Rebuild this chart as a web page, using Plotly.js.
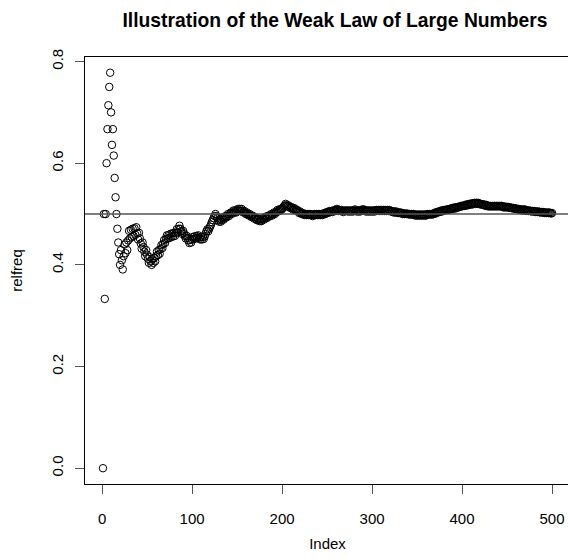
<!DOCTYPE html>
<html>
<head>
<meta charset="utf-8">
<script src="https://cdn.plot.ly/plotly-3.0.1.min.js"></script>
<style>html,body{margin:0;padding:0;overflow:hidden;background:#fff;width:568px;height:560px}</style>
</head>
<body>
<div id="chart" style="width:574px;height:560px"></div>
<script>
const chartTitle = "Illustration of the Weak Law of Large Numbers";
const xTitle = "Index";
const yTitle = "relfreq";
const refLevel = 0.5;
const xTickVals = [0, 100, 200, 300, 400, 500];
const yTickVals = [0.0, 0.2, 0.4, 0.6, 0.8];
const yTickText = ["0.0", "0.2", "0.4", "0.6", "0.8"];

const relfreq = [
0, .5, .333, .5, .6, .667, .714, .75, .778, .7,
.636, .667, .615, .571, .533, .5, .471, .444, .421, .4,
.429, .409, .391, .417, .44, .423, .444, .429, .448, .467,
.452, .469, .455, .471, .457, .472, .459, .474, .462, .45,
.463, .452, .442, .432, .444, .435, .426, .417, .429, .42,
.412, .404, .415, .407, .4, .411, .404, .414, .407, .417,
.426, .419, .429, .422, .431, .439, .433, .441, .449, .443,
.451, .458, .452, .459, .453, .461, .455, .462, .456, .463,
.457, .463, .47, .464, .471, .477, .471, .466, .461, .467,
.462, .457, .452, .457, .453, .448, .443, .449, .444, .45,
.455, .451, .456, .452, .457, .453, .458, .454, .45, .455,
.45, .455, .451, .456, .461, .466, .47, .466, .471, .475,
.479, .484, .488, .492, .496, .5, .496, .492, .488, .485,
.489, .485, .489, .493, .489, .493, .496, .493, .496, .5,
.496, .5, .503, .5, .503, .507, .503, .507, .503, .507,
.51, .507, .51, .506, .51, .506, .503, .506, .503, .5,
.503, .5, .497, .5, .497, .494, .497, .494, .491, .494,
.491, .488, .491, .489, .486, .489, .486, .489, .492, .489,
.492, .495, .492, .495, .497, .495, .497, .5, .497, .5,
.503, .5, .503, .505, .508, .505, .508, .51, .508, .51,
.512, .515, .517, .52, .517, .515, .517, .514, .512, .514,
.512, .509, .512, .509, .507, .509, .507, .505, .502, .505,
.502, .5, .502, .5, .498, .5, .498, .5, .498, .5,
.498, .5, .498, .496, .498, .5, .498, .5, .498, .5,
.498, .5, .498, .5, .498, .5, .502, .5, .502, .504,
.502, .504, .506, .504, .506, .504, .506, .508, .506, .508,
.51, .508, .506, .508, .506, .508, .506, .504, .506, .507,
.506, .507, .505, .507, .505, .507, .505, .507, .505, .507,
.509, .507, .505, .507, .505, .507, .505, .507, .509, .507,
.509, .507, .505, .507, .505, .507, .505, .507, .505, .507,
.505, .507, .505, .507, .508, .507, .508, .506, .508, .506,
.508, .506, .508, .506, .508, .506, .508, .506, .508, .506,
.505, .506, .505, .503, .505, .503, .505, .503, .502, .503,
.502, .503, .502, .5, .501, .5, .501, .5, .501, .5,
.499, .5, .499, .5, .499, .5, .499, .497, .499, .497,
.499, .497, .499, .497, .499, .497, .499, .497, .499, .497,
.499, .5, .499, .5, .499, .5, .499, .5, .501, .503,
.501, .503, .504, .505, .504, .505, .507, .505, .507, .508,
.507, .508, .509, .508, .509, .51, .509, .51, .512, .51,
.512, .513, .511, .513, .514, .513, .514, .515, .516, .515,
.516, .517, .516, .517, .519, .517, .518, .52, .518, .52,
.521, .519, .521, .522, .52, .522, .52, .522, .52, .519,
.52, .519, .518, .519, .518, .516, .518, .516, .515, .516,
.515, .516, .515, .516, .515, .516, .515, .516, .515, .516,
.515, .516, .515, .516, .515, .513, .515, .513, .514, .513,
.514, .513, .512, .513, .512, .511, .512, .511, .51, .511,
.51, .509, .51, .509, .508, .509, .507, .509, .507, .509,
.507, .506, .507, .506, .507, .506, .505, .506, .505, .506,
.505, .504, .505, .504, .505, .504, .503, .504, .503, .504,
.503, .502, .503, .502, .503, .502, .503, .502, .501, .502
];
const index = relfreq.map((_, i) => i + 1);

const FONT = "Liberation Sans, Arial, Helvetica, sans-serif";

const trace = {
  x: index, y: relfreq, type: "scatter", mode: "markers",
  marker: {symbol: "circle-open", size: 7.5, color: "#000", line: {width: 1, color: "#000"}},
  hoverinfo: "x+y", showlegend: false
};

const layout = {
  width: 574, height: 560,
  margin: {l: 85, r: 4, t: 57, b: 76},
  paper_bgcolor: "#fff", plot_bgcolor: "#fff",
  font: {family: FONT, size: 15, color: "#000"},
  title: {text: chartTitle, font: {family: FONT, size: 19.3, weight: "bold", color: "#000"},
          x: 335 / 574, xanchor: "center", xref: "container", y: 0.964, yanchor: "middle", yref: "container"},
  xaxis: {
    range: [-18.96, 519.96], showgrid: false, zeroline: false,
    showline: true, mirror: true, linecolor: "#000", linewidth: 1,
    ticks: "outside", ticklen: 9, tickwidth: 1, tickcolor: "#555",
    tickvals: xTickVals, ticklabelstandoff: 12,
    tickfont: {size: 15, family: FONT, color: "#000"},
    title: {text: xTitle, font: {size: 15, family: FONT, color: "#000"}, standoff: 12}
  },
  yaxis: {
    range: [-0.0311, 0.8089], showgrid: false, zeroline: false,
    showline: true, mirror: false, linecolor: "#000", linewidth: 1,
    ticks: "outside", ticklen: 9, tickwidth: 1, tickcolor: "#555",
    tickvals: yTickVals, ticktext: yTickText, tickangle: -90, ticklabelstandoff: 6,
    tickfont: {size: 15, family: FONT, color: "#000"},
    title: {text: yTitle, font: {size: 15, family: FONT, color: "#000"}, standoff: 22}
  },
  shapes: [{type: "line", xref: "paper", x0: 0, x1: 1, yref: "y", y0: refLevel, y1: refLevel,
            line: {color: "#555", width: 1.3}, layer: "above"}]
};

Plotly.newPlot("chart", [trace], layout, {displayModeBar: false, staticPlot: true});
</script>
</body>
</html>
